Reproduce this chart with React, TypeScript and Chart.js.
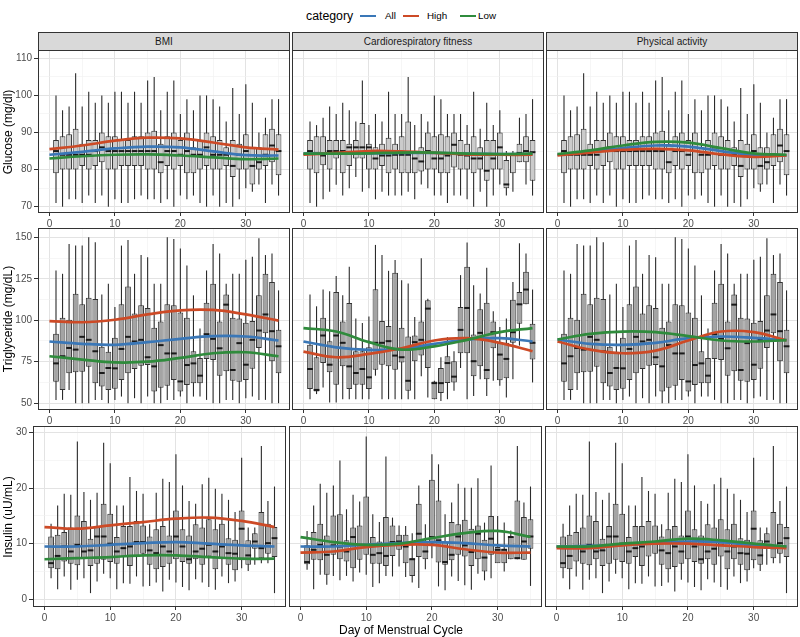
import React, { useEffect, useRef } from 'react';
import { Chart, registerables } from 'chart.js';

Chart.register(...registerables);

const FONT = '"Liberation Sans", Arial, Helvetica, sans-serif';
const BLUE = '#3A77B7';
const RED = '#CD4A26';
const GREEN = '#2F8B3C';

const days = [1, 2, 3, 4, 5, 6, 7, 8, 9, 10, 11, 12, 13, 14, 15, 16, 17, 18, 19, 20, 21, 22, 23, 24, 25, 26, 27, 28, 29, 30, 31, 32, 33, 34, 35];
const lineDays = [0, 5, 10, 15, 20, 25, 30, 35];
const xTickValues = [0, 5, 10, 15, 20, 25, 30, 35];
const xTickLabels = [0, 10, 20, 30];
const facetNames = ['BMI', 'Cardiorespiratory fitness', 'Physical activity'];
const legendLabels = ['All', 'High', 'Low'];

// ---------- Glucose ----------
const gluMajor = [70, 80, 90, 100, 110];
const gluMinor = [75, 85, 95, 105];
// BMI / Physical activity (same boxes)
const gluMin = [71, 70, 72, 72, 71, 73, 71, 73, 70, 72, 71, 71, 72, 73, 72, 72, 71, 72, 70, 73, 72, 73, 71, 70, 73, 70, 71, 70, 72, 75, 74, 76, 71, 76, 73];
const gluQ1 = [79, 80, 80, 80, 81, 80, 81, 82, 80, 80, 81, 81, 81, 81, 80, 80, 79, 81, 80, 81, 79, 79, 80, 81, 80, 80, 81, 78, 80, 80, 76, 80, 81, 82, 78.5];
const gluMed = [85, 84, 84, 84, 84, 84, 85, 86, 85, 85, 85, 85, 85, 85, 85, 85, 82, 85, 85, 84, 85, 84, 84, 86, 84, 84, 84, 81, 84, 85, 81, 82, 84, 86.5, 85];
const gluQ3 = [88, 89, 89.5, 91, 87, 88, 88, 90, 89, 89, 88, 88, 89, 89, 90, 90.5, 87, 89, 90, 88, 90, 86, 88, 90, 89, 88, 86, 88, 87, 89.5, 86, 86, 89.5, 91, 89.5];
const gluMax = [100, 96, 97, 106, 97, 101, 98, 100, 98, 101, 101, 98, 101, 98, 104, 105, 96, 101, 104, 95, 99, 96, 100, 100, 99, 97, 93, 102, 95, 103, 98, 90, 94, 99, 99];
// Cardiorespiratory fitness
const gluCrfMin = [71, 70, 72, 74, 75.9, 73, 75, 78, 74, 75, 72, 74, 73, 73, 73, 74, 72, 76, 75, 73, 73, 71, 73, 73, 72, 70, 74, 70, 73, 76, 73, 74, 82, 76, 73];
const gluCrfQ1 = [80, 79, 81.2, 80, 83, 79, 81, 83, 83, 80, 80, 81, 79, 80, 79, 79, 79, 79.5, 80, 80, 79, 79, 80.6, 80, 80, 79, 80, 77, 80, 80, 75, 79, 82, 82, 77];
const gluCrfMed = [85, 84.5, 83.8, 85, 85, 85, 86, 86, 86, 86, 83, 83.8, 83.8, 84, 84, 84, 83, 82.2, 85, 83, 83, 83.8, 86.7, 84, 83.8, 83, 83, 79.7, 83, 86, 76, 84, 84.5, 85, 84.7];
const gluCrfQ3 = [88, 89, 89, 88, 88, 88, 87, 88, 92.6, 87, 86, 87, 88.6, 87, 89, 93, 85, 86, 90, 89, 89.5, 89, 90, 88, 87, 89, 86, 88, 88, 90, 82.6, 84, 87, 89, 88];
const gluCrfMax = [93, 92, 94, 97, 95, 98, 96, 93, 104, 92, 95, 93, 101, 95, 95, 105, 92, 95, 93, 100, 99, 95, 95, 95, 92, 101, 91, 98, 92, 96, 85, 85, 94, 95, 99];
// smooth lines
const gluBmiAll = [84, 84.8, 85.7, 86.2, 86, 84.9, 83.9, 83.8];
const gluBmiHigh = [85.5, 86.5, 87.8, 88.6, 88.4, 87.3, 86, 85.4];
const gluBmiLow = [83, 83.6, 84, 84.1, 83.8, 83.3, 82.8, 83];
const gluCrfAll = [84.3, 84.4, 84.4, 84.5, 84.5, 84.3, 84.2, 84.2];
const gluCrfHigh = [84, 84.5, 85, 84.9, 84.5, 84.1, 84, 84];
const gluCrfLow = [84.3, 84.3, 84.4, 84.6, 84.6, 84.3, 84.2, 84.3];
const gluPaAll = [84, 84.9, 85.8, 86.5, 86.2, 85, 83.9, 83.8];
const gluPaHigh = [83.8, 84.6, 85.3, 85.6, 85.2, 84.1, 83.4, 83.8];
const gluPaLow = [84.2, 85.2, 86.5, 87.5, 87.3, 85.8, 84.4, 84];

// ---------- Triglyceride ----------
const triMajor = [50, 75, 100, 125, 150];
const triMinor = [62.5, 87.5, 112.5, 137.5];
const triMin = [52, 52, 58, 50, 50, 50, 52, 52, 50, 52, 54, 50, 53, 50, 54, 50, 50, 52, 52, 54, 50, 54, 54, 52, 50, 50, 52, 52, 50, 53, 54, 52, 52, 50, 50];
const triQ1 = [63, 58, 68, 68.6, 69, 72, 62, 60, 58, 58.7, 64, 68, 70.6, 72.6, 73, 57, 59.3, 60.5, 64, 57, 61, 62, 62, 76.7, 76, 66.6, 69.2, 63.5, 63, 64, 70.8, 83.3, 92.2, 75.3, 68];
const triMed = [74, 78.3, 83.3, 82.3, 90, 88.2, 81.3, 68.2, 71.2, 71, 82.7, 90, 87.2, 88.2, 77.7, 72.2, 85, 80, 80, 63.1, 73, 74, 66.6, 91.6, 88.8, 83.1, 109.4, 70, 86.2, 73.2, 88.2, 93.8, 103.5, 93.4, 84.3];
const triQ3 = [91.8, 101.5, 100.3, 116, 109.6, 113.6, 112.8, 84, 81, 89.4, 109.6, 120.3, 104, 109, 107.4, 95.5, 99.3, 109.6, 109, 104.7, 101.5, 81.3, 77.3, 110.6, 122, 99.3, 115.5, 101.5, 101, 98.5, 99.5, 115, 128, 123, 94.2];
const triMax = [130, 128, 146, 145, 145, 150, 147, 115.5, 122, 108, 145, 148.4, 128, 139.3, 138, 122, 122, 150, 149, 143.3, 133, 115, 95, 130, 146, 140.3, 122, 128, 128, 136.4, 138.3, 149.4, 139.3, 140.3, 118];
const triCrfMin = [52.4, 55.5, 59.5, 50.4, 50.4, 52.4, 52.4, 52.4, 52.4, 52.4, 66.6, 52.4, 52.4, 52.4, 52.4, 52.4, 52.4, 66.2, 53.4, 52.4, 51.4, 52.4, 57.5, 71.2, 52.4, 54.4, 64.5, 54.4, 63.5, 60.5, 53.4, 64.5, 84.7, 109.6, 62.5];
const triCrfQ1 = [58.5, 57, 74.2, 68.6, 61.1, 72.2, 58.5, 61.1, 61.1, 58.5, 70.2, 73.2, 72.2, 70.2, 74.6, 57.5, 75.3, 78.7, 71.2, 52.4, 56.1, 62.1, 62.5, 80.1, 80.1, 66.2, 72.2, 64.5, 83.1, 63.9, 65, 86.4, 97.9, 109.6, 76.3];
const triCrfMed = [70.6, 58, 90.8, 73.2, 90.8, 86.4, 72.2, 68.2, 70.6, 65.6, 86.4, 86.4, 87.4, 78.7, 77.7, 63.5, 86.8, 88.2, 107, 62.1, 62.1, 74.2, 66, 94.2, 107.4, 75.3, 92.4, 70, 92.8, 79.3, 76.7, 92.8, 109.6, 118.5, 86.4];
const triCrfQ3 = [85.2, 77.7, 101.5, 87.4, 117, 99.3, 110.4, 81.3, 81.3, 83.7, 118.7, 99.5, 96.5, 128.6, 95.5, 90.2, 90.8, 99.3, 112, 63.1, 71.2, 78.3, 75.3, 108, 132.2, 91.4, 106.6, 110.6, 99.3, 86.8, 86.4, 112.4, 117, 129.2, 97.9];
const triCrfMax = [115.5, 108.4, 118.5, 117.5, 126.6, 115, 132.2, 101, 98.3, 102.3, 145.4, 139.3, 129.8, 136.3, 124.1, 122.1, 101.9, 137.3, 113, 63.5, 77.7, 89.8, 81.3, 127.2, 146.8, 121.1, 116.1, 131.6, 105.4, 95.9, 101, 123.1, 146.4, 140.3, 118.5];
const triBmiAll = [87.2, 85.8, 85.2, 86.8, 88.8, 90.4, 90.2, 87.8];
const triBmiHigh = [99.5, 98.8, 100.3, 103.5, 106, 106.2, 103.5, 99.8];
const triBmiLow = [78.3, 76.3, 74.6, 75, 77.3, 80.1, 80.7, 78.3];
const triCrfAll = [87.2, 83.7, 82.1, 82.7, 85.8, 88.4, 89.2, 87.2];
const triCrfHigh = [81.1, 77.7, 79.7, 83.1, 87.8, 89.2, 86.4, 81.3];
const triCrfLow = [95.3, 93.2, 86.8, 82.3, 84.3, 88.2, 92.8, 95.3];
const triPaAll = [88.4, 85.8, 85.2, 86.4, 89.2, 90.2, 89.4, 88];
const triPaHigh = [87.2, 82.3, 80.1, 81.7, 87.8, 93.2, 92.8, 87.8];
const triPaLow = [88.4, 91.8, 93.2, 92.8, 90.4, 87.8, 87.2, 88];

// ---------- Insulin ----------
const insMajor = [0, 10, 20, 30];
const insMinor = [5, 15, 25];
const insMin = [3.8, 1.8, 4.1, 1.7, 3.5, 3.8, 1.1, 3.2, 4.6, 3.8, 1.8, 2.9, 2.8, 4.1, 2.3, 2.4, 3, 1.4, 3.5, 3, 2.2, 1.6, 3.6, 3, 2.2, 1.7, 4.1, 2.9, 3.2, 5.6, 5.1, 6.2, 6.5, 6.5, 1.1];
const insQ1 = [5.6, 5.4, 6.8, 6.4, 6.1, 7.2, 6, 6.4, 7.1, 6.7, 6.4, 7.6, 6, 7.7, 8.2, 6.2, 5.4, 5.8, 6.4, 7.2, 6.7, 6.4, 7.2, 6.2, 7.7, 5.4, 7.2, 6.2, 5.2, 7, 6.2, 9.1, 7.4, 8.2, 7.6];
const insMed = [6.5, 7.8, 9.5, 8.6, 9.8, 8.6, 8.8, 11.3, 11.3, 10, 8.6, 9.2, 9.5, 10.3, 10.3, 8.8, 8.3, 9.5, 8.6, 11.3, 9.5, 7.2, 8.6, 9.1, 9.8, 8.6, 9.5, 8.3, 8.2, 12.7, 7.9, 10.4, 9.2, 10.1, 11];
const insQ3 = [11.3, 11.6, 12.1, 12.9, 15.1, 14.1, 10.9, 13.2, 17.2, 15.4, 11.2, 13.2, 13.2, 14.1, 13.3, 11.3, 12.6, 13.2, 11.5, 16, 12.6, 11.5, 13.5, 12.9, 14.4, 12.6, 13.6, 11, 10.7, 16, 10.6, 11.9, 15.7, 13.6, 13];
const insMax = [13.6, 16.9, 19, 18.8, 28.4, 19.3, 17.9, 19.2, 28.2, 24.5, 16.9, 16.9, 22, 19.5, 19, 13.5, 19.2, 21.7, 21.1, 26.1, 20.5, 17.7, 17.2, 20.7, 21.9, 19.9, 19, 17.9, 15.7, 25.5, 12.9, 12.9, 27.6, 17.7, 20.3];
const insCrfMin = [5.3, 1.8, 4.4, 2.6, 4.2, 3.4, 4.2, 3.2, 4.8, 4.4, 2.2, 2.9, 4.2, 4.1, 5.9, 4, 3, 2, 5.4, 7.4, 2.3, 1.6, 4.1, 3.3, 2.5, 1.7, 4.6, 3.4, 3.8, 6.6, 5, 7.2, 7.2, 7.1, 2.4];
const insCrfQ1 = [6.3, 7.1, 7, 4.4, 8, 7.2, 6.8, 5.6, 7.1, 8, 6.4, 6.4, 6, 7.8, 8.9, 6.5, 4.2, 7.6, 7.2, 10, 6.6, 6.2, 7, 8, 7.7, 6, 7.2, 5, 8, 6.5, 6.5, 7.2, 7.2, 7.1, 9.1];
const insCrfMed = [6.7, 8.9, 9.8, 8, 9.7, 9.5, 8.6, 11.2, 9.8, 9.8, 8, 8.3, 7.8, 10.3, 10.4, 9.5, 7.2, 11.8, 8.6, 11.2, 10.6, 6.7, 8, 11.3, 9.7, 8.5, 11.8, 7.5, 10.9, 8.9, 8.9, 11.2, 7.4, 10.4, 11.3];
const insCrfQ3 = [9.7, 12.1, 13.6, 11.5, 15.1, 15.3, 10.6, 12.9, 13.3, 18.5, 11.2, 10.4, 14.8, 13.3, 11.6, 11.6, 7.4, 17.2, 10.3, 21.5, 17.8, 10.3, 13.9, 13.5, 14.3, 12.7, 13.3, 10.7, 15, 9.4, 9.1, 11.3, 17.8, 14.8, 14.4];
const insCrfMax = [12.3, 16.9, 20.8, 19.2, 20.5, 25, 16.2, 18.8, 17.6, 29.3, 15.3, 13.9, 25.7, 14.7, 13.3, 13.2, 11.9, 20.5, 13.5, 26.1, 24.3, 15.3, 17.4, 20.8, 20.1, 20.1, 21.8, 13.8, 24.1, 15, 13.8, 12.4, 27.6, 17.4, 20.3];
const insBmiAll = [9.5, 9.5, 9.8, 10.1, 10.3, 10, 9.7, 9.5];
const insBmiHigh = [13, 12.7, 13.3, 13.9, 14.5, 14.7, 14.1, 13];
const insBmiLow = [7.2, 7.4, 7.6, 7.9, 7.9, 7.6, 7.3, 7.3];
const insCrfAll = [9.5, 9.5, 9.8, 10.1, 10.3, 10.1, 9.7, 9.5];
const insCrfHigh = [8.4, 8.6, 9.4, 9.8, 9.8, 9, 8.4, 8.4];
const insCrfLow = [11.2, 10.3, 9.8, 10, 11, 11.9, 12.3, 11.2];
const insPaAll = [9.5, 9.6, 9.8, 10.1, 10.4, 10.3, 9.7, 9.5];
const insPaHigh = [9.2, 9.2, 9.7, 10, 10, 9.7, 9.4, 9.2];
const insPaLow = [9.5, 9.5, 10, 10.4, 10.9, 10.6, 10, 9.5];

const gluBox = { min: gluMin, q1: gluQ1, med: gluMed, q3: gluQ3, max: gluMax };
const gluCrfBox = { min: gluCrfMin, q1: gluCrfQ1, med: gluCrfMed, q3: gluCrfQ3, max: gluCrfMax };
const triBox = { min: triMin, q1: triQ1, med: triMed, q3: triQ3, max: triMax };
const triCrfBox = { min: triCrfMin, q1: triCrfQ1, med: triCrfMed, q3: triCrfQ3, max: triCrfMax };
const insBox = { min: insMin, q1: insQ1, med: insMed, q3: insQ3, max: insMax };
const insCrfBox = { min: insCrfMin, q1: insCrfQ1, med: insCrfMed, q3: insCrfQ3, max: insCrfMax };

const rows = [
  {
    title: 'Glucose (mg/dl)', top: 50, height: 163, yMin: 68.3, yMax: 112.25,
    majors: gluMajor, minors: gluMinor, fill: '#CBCBCB', lefts: [38, 292, 546], width: 252,
    boxes: [gluBox, gluCrfBox, gluBox],
    lines: [
      { all: gluBmiAll, high: gluBmiHigh, low: gluBmiLow },
      { all: gluCrfAll, high: gluCrfHigh, low: gluCrfLow },
      { all: gluPaAll, high: gluPaHigh, low: gluPaLow },
    ],
  },
  {
    title: 'Triglyceride (mg/dL)', top: 228, height: 182, yMin: 45.9, yMax: 155.6,
    majors: triMajor, minors: triMinor, fill: '#A4A4A4', lefts: [38, 292, 546], width: 252,
    boxes: [triBox, triCrfBox, triBox],
    lines: [
      { all: triBmiAll, high: triBmiHigh, low: triBmiLow },
      { all: triCrfAll, high: triCrfHigh, low: triCrfLow },
      { all: triPaAll, high: triPaHigh, low: triPaLow },
    ],
  },
  {
    title: 'Insulin (uU/mL)', top: 426, height: 181, yMin: -1.4, yMax: 31.2,
    majors: insMajor, minors: insMinor, fill: '#A4A4A4', lefts: [33, 289, 545], width: 253,
    boxes: [insBox, insCrfBox, insBox],
    lines: [
      { all: insBmiAll, high: insBmiHigh, low: insBmiLow },
      { all: insCrfAll, high: insCrfHigh, low: insCrfLow },
      { all: insPaAll, high: insPaHigh, low: insPaLow },
    ],
  },
];

const boxPlugin = {
  id: 'boxExtras',
  beforeDatasetsDraw(chart: any) {
    const ctx = chart.ctx;
    const ys = chart.scales.y;
    chart.data.datasets.forEach((ds: any, di: number) => {
      if (ds.type !== 'bar') return;
      const meta = chart.getDatasetMeta(di);
      ctx.save();
      ctx.strokeStyle = '#2B2B2B';
      ctx.lineWidth = 1.1;
      meta.data.forEach((el: any, i: number) => {
        ctx.beginPath();
        ctx.moveTo(el.x, ys.getPixelForValue(ds.whiskerLo[i]));
        ctx.lineTo(el.x, ys.getPixelForValue(ds.whiskerHi[i]));
        ctx.stroke();
      });
      ctx.restore();
    });
  },
  afterDatasetDraw(chart: any, args: any) {
    const ds = chart.data.datasets[args.index];
    if (!ds || ds.type !== 'bar') return;
    const ctx = chart.ctx;
    const ys = chart.scales.y;
    const meta = chart.getDatasetMeta(args.index);
    ctx.save();
    ctx.strokeStyle = '#1A1A1A';
    ctx.lineWidth = 2;
    meta.data.forEach((el: any, i: number) => {
      const y = ys.getPixelForValue(ds.medians[i]);
      ctx.beginPath();
      ctx.moveTo(el.x - el.width / 2, y);
      ctx.lineTo(el.x + el.width / 2, y);
      ctx.stroke();
    });
    ctx.restore();
  },
  afterDraw(chart: any) {
    const a = chart.chartArea;
    const ctx = chart.ctx;
    ctx.save();
    ctx.strokeStyle = '#333333';
    ctx.lineWidth = 1;
    ctx.strokeRect(a.left + 0.5, a.top + 0.5, a.right - a.left - 1, a.bottom - a.top - 1);
    ctx.restore();
  },
};

function Panel({ row, col }: { row: any; col: number }) {
  const ref = useRef<HTMLCanvasElement>(null);
  const axisW = col === 0 ? row.lefts[0] : 0;
  const cw = axisW + row.width;
  const ch = row.height + 22;
  const left = col === 0 ? 0 : row.lefts[col];

  useEffect(() => {
    const box = row.boxes[col];
    const ln = row.lines[col];
    const allTicks = [...row.majors, ...row.minors].sort((a: number, b: number) => a - b);
    const mk = (vals: number[]) => lineDays.map((d, i) => ({ x: d, y: vals[i] }));
    const lineDs = (label: string, vals: number[], color: string, order: number) => ({
      type: 'line', label, data: mk(vals), borderColor: color, backgroundColor: color,
      borderWidth: 2.7, pointRadius: 0, tension: 0.4, order, fill: false,
    });
    const noPad = (s: any) => {
      s.paddingTop = 0; s.paddingBottom = 0; s.paddingLeft = 0; s.paddingRight = 0;
    };
    const chart = new Chart(ref.current as HTMLCanvasElement, {
      type: 'line',
      data: {
        datasets: [
          lineDs(legendLabels[2], ln.low, GREEN, 1),
          lineDs(legendLabels[1], ln.high, RED, 2),
          lineDs(legendLabels[0], ln.all, BLUE, 3),
          {
            type: 'bar', label: 'box',
            data: days.map((d, i) => ({ x: d, y: [box.q1[i], box.q3[i]] })),
            backgroundColor: row.fill, borderColor: '#333333', borderWidth: 1,
            borderSkipped: false, barPercentage: 0.88, categoryPercentage: 1, order: 10,
            whiskerLo: box.min, whiskerHi: box.max, medians: box.med,
          } as any,
        ],
      } as any,
      options: {
        animation: false,
        responsive: false,
        devicePixelRatio: 1,
        events: [],
        layout: { padding: 0, autoPadding: false },
        plugins: { legend: { display: false }, tooltip: { enabled: false } },
        scales: {
          x: {
            type: 'linear', min: -1.75, max: 36.75, offset: false,
            afterBuildTicks: (s: any) => { s.ticks = xTickValues.map((v) => ({ value: v })); },
            afterFit: (s: any) => { s.height = 22; noPad(s); },
            border: { display: false },
            grid: {
              offset: false,
              color: (c: any) => (c.tick && xTickLabels.includes(c.tick.value) ? '#E3E3E3' : '#F0F0F0'),
              lineWidth: (c: any) => (c.tick && xTickLabels.includes(c.tick.value) ? 1 : 0.6),
              drawTicks: true, tickLength: 3,
              tickColor: (c: any) => (c.tick && xTickLabels.includes(c.tick.value) ? '#333333' : 'rgba(0,0,0,0)'),
              tickWidth: 1,
            },
            ticks: {
              autoSkip: false, maxRotation: 0, minRotation: 0, padding: 2,
              color: '#4D4D4D', font: { family: FONT, size: 10 },
              callback: (v: any) => (xTickLabels.includes(v) ? String(v) : ''),
            },
          },
          y: {
            type: 'linear', min: row.yMin, max: row.yMax, beginAtZero: false,
            afterBuildTicks: (s: any) => { s.ticks = allTicks.map((v: number) => ({ value: v })); },
            afterFit: (s: any) => { s.width = axisW; noPad(s); },
            border: { display: false },
            grid: {
              color: (c: any) => (c.tick && row.majors.includes(c.tick.value) ? '#E3E3E3' : '#F0F0F0'),
              lineWidth: (c: any) => (c.tick && row.majors.includes(c.tick.value) ? 1 : 0.6),
              drawTicks: col === 0, tickLength: 4,
              tickColor: (c: any) => (c.tick && row.majors.includes(c.tick.value) ? '#333333' : 'rgba(0,0,0,0)'),
              tickWidth: 1,
            },
            ticks: {
              display: col === 0, autoSkip: false, padding: 2,
              color: '#4D4D4D', font: { family: FONT, size: 10 },
              callback: (v: any) => (row.majors.includes(v) ? String(v) : ''),
            },
          },
        },
      } as any,
      plugins: [boxPlugin as any],
    });
    return () => chart.destroy();
  }, []);

  return (
    <canvas
      ref={ref}
      width={cw}
      height={ch}
      style={{ position: 'absolute', left, top: row.top, width: cw, height: ch }}
    />
  );
}

export default function App() {
  const legendColors = [BLUE, RED, GREEN];
  const legendKeyX = [360, 403, 460];
  const legendTextX = [385, 427, 478];
  return (
    <div style={{ position: 'absolute', left: 0, top: 0, width: 800, height: 637, background: '#FFFFFF', overflow: 'hidden', fontFamily: FONT }}>
      {/* legend */}
      <div style={{ position: 'absolute', left: 306, top: 8, fontSize: 12.3, lineHeight: '16px', color: '#000' }}>category</div>
      {legendLabels.map((lab, i) => (
        <React.Fragment key={lab}>
          <div style={{ position: 'absolute', left: legendKeyX[i], top: 14.7, width: 16, height: 2.2, background: legendColors[i] }} />
          <div style={{ position: 'absolute', left: legendTextX[i], top: 9, fontSize: 9.8, lineHeight: '14px', color: '#000' }}>{lab}</div>
        </React.Fragment>
      ))}
      {/* strips */}
      {facetNames.map((name, c) => (
        <div
          key={name}
          style={{
            position: 'absolute', left: rows[0].lefts[c], top: 32, width: rows[0].width, height: 19,
            boxSizing: 'border-box', background: '#D9D9D9', border: '1px solid #333333',
            fontSize: 10, color: '#1A1A1A', display: 'flex', alignItems: 'center', justifyContent: 'center',
          }}
        >
          {name}
        </div>
      ))}
      {/* panels */}
      {rows.map((row, r) => [0, 1, 2].map((c) => <Panel key={`${r}-${c}`} row={row} col={c} />))}
      {/* y axis titles */}
      {rows.map((row) => (
        <div
          key={row.title}
          style={{
            position: 'absolute', left: 8, top: row.top + row.height / 2, fontSize: 12, color: '#000',
            whiteSpace: 'nowrap', transform: 'translate(-50%, -50%) rotate(-90deg)',
          }}
        >
          {row.title}
        </div>
      ))}
      {/* x axis title */}
      <div style={{ position: 'absolute', left: 401, top: 630, fontSize: 12, color: '#000', whiteSpace: 'nowrap', transform: 'translate(-50%, -50%)' }}>
        Day of Menstrual Cycle
      </div>
    </div>
  );
}
